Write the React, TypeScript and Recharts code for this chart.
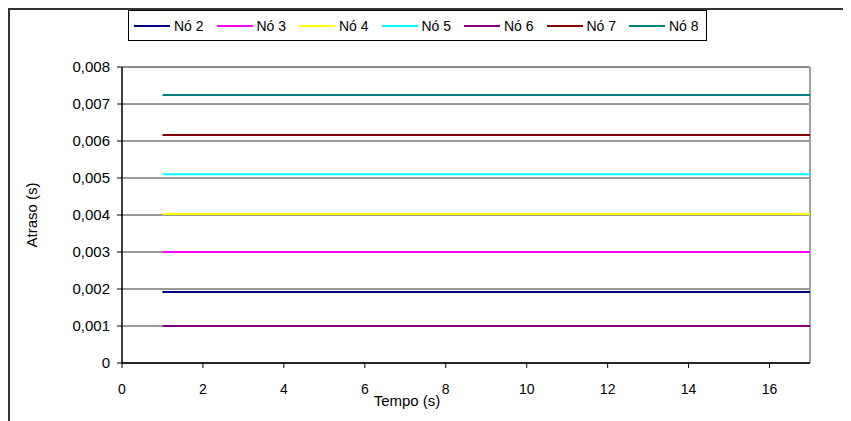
import {
  LineChart,
  Line,
  XAxis,
  YAxis,
  CartesianGrid,
  ReferenceLine,
  Label,
} from "recharts";

const times = [1, 2, 3, 4, 5, 6, 7, 8, 9, 10, 11, 12, 13, 14, 15, 16, 17];

const no2 = [0.00192, 0.00192, 0.00192, 0.00192, 0.00192, 0.00192, 0.00192, 0.00192, 0.00192, 0.00192, 0.00192, 0.00192, 0.00192, 0.00192, 0.00192, 0.00192, 0.00192];
const no3 = [0.003, 0.003, 0.003, 0.003, 0.003, 0.003, 0.003, 0.003, 0.003, 0.003, 0.003, 0.003, 0.003, 0.003, 0.003, 0.003, 0.003];
const no4 = [0.00403, 0.00403, 0.00403, 0.00403, 0.00403, 0.00403, 0.00403, 0.00403, 0.00403, 0.00403, 0.00403, 0.00403, 0.00403, 0.00403, 0.00403, 0.00403, 0.00403];
const no5 = [0.0051, 0.0051, 0.0051, 0.0051, 0.0051, 0.0051, 0.0051, 0.0051, 0.0051, 0.0051, 0.0051, 0.0051, 0.0051, 0.0051, 0.0051, 0.0051, 0.0051];
const no6 = [0.001, 0.001, 0.001, 0.001, 0.001, 0.001, 0.001, 0.001, 0.001, 0.001, 0.001, 0.001, 0.001, 0.001, 0.001, 0.001, 0.001];
const no7 = [0.00616, 0.00616, 0.00616, 0.00616, 0.00616, 0.00616, 0.00616, 0.00616, 0.00616, 0.00616, 0.00616, 0.00616, 0.00616, 0.00616, 0.00616, 0.00616, 0.00616];
const no8 = [0.00724, 0.00724, 0.00724, 0.00724, 0.00724, 0.00724, 0.00724, 0.00724, 0.00724, 0.00724, 0.00724, 0.00724, 0.00724, 0.00724, 0.00724, 0.00724, 0.00724];

const seriesNames = ["Nó 2", "Nó 3", "Nó 4", "Nó 5", "Nó 6", "Nó 7", "Nó 8"];
const seriesValues = [no2, no3, no4, no5, no6, no7, no8];
const seriesColors = ["#000080", "#ff00ff", "#ffff00", "#00ffff", "#800080", "#800000", "#008080"];

const xTicks = [0, 2, 4, 6, 8, 10, 12, 14, 16];
const yTicks = [0, 0.001, 0.002, 0.003, 0.004, 0.005, 0.006, 0.007, 0.008];

const data = times.map((t, i) => {
  const row: Record<string, number> = { t };
  seriesNames.forEach((name, s) => {
    row[name] = seriesValues[s][i];
  });
  return row;
});

const font = "'Liberation Sans', Arial, sans-serif";

const formatY = (v: number) => (v === 0 ? "0" : v.toFixed(3).replace(".", ","));

const ChartLegend = () => (
  <div
    style={{
      position: "absolute",
      left: 118,
      top: 0,
      width: 579,
      height: 31,
      border: "1px solid #000",
      background: "#fff",
      display: "flex",
      alignItems: "center",
      paddingLeft: 5,
      boxSizing: "border-box",
      fontFamily: font,
      fontSize: 14,
      color: "#000",
    }}
  >
    {seriesNames.map((name, i) => (
      <div key={name} style={{ display: "flex", alignItems: "center", width: 82.5, flexShrink: 0 }}>
        <div
          style={{
            width: 36,
            minWidth: 36,
            flexShrink: 0,
            height: 2,
            background: seriesColors[i],
            marginRight: 4,
          }}
        />
        <span style={{ whiteSpace: "nowrap" }}>{name}</span>
      </div>
    ))}
  </div>
);

export default function App() {
  return (
    <div
      style={{
        position: "relative",
        width: 841,
        height: 411,
        borderTop: "2px solid #333",
        borderLeft: "2px solid #333",
        background: "#fff",
      }}
    >
      <LineChart
        width={841}
        height={411}
        data={data}
        margin={{ top: 57, right: 41, left: 42, bottom: 18 }}
      >
        <CartesianGrid vertical={false} stroke="#333" strokeWidth={1} />
        <XAxis
          dataKey="t"
          type="number"
          domain={[0, 17]}
          ticks={xTicks}
          height={40}
          tickSize={5}
          tickMargin={16}
          axisLine={{ stroke: "#000", strokeWidth: 1.5 }}
          tickLine={{ stroke: "#000" }}
          tick={{ fill: "#000", fontSize: 14, fontFamily: font }}
        >
          <Label
            content={({ viewBox }: any) => (
              <text
                x={viewBox.x + viewBox.width / 2 - 59}
                y={viewBox.y + 43}
                textAnchor="middle"
                fontSize={15}
                fontFamily={font}
                fill="#000"
              >
                Tempo (s)
              </text>
            )}
          />
        </XAxis>
        <YAxis
          type="number"
          domain={[0, 0.008]}
          ticks={yTicks}
          width={70}
          tickSize={5}
          tickMargin={7}
          tickFormatter={formatY}
          axisLine={{ stroke: "#000", strokeWidth: 1.5 }}
          tickLine={{ stroke: "#000" }}
          tick={{ fill: "#000", fontSize: 15, fontFamily: font }}
        >
          <Label
            content={({ viewBox }: any) => {
              const cx = viewBox.x - 21;
              const cy = viewBox.y + viewBox.height / 2;
              return (
                <text
                  x={cx}
                  y={cy}
                  textAnchor="middle"
                  dominantBaseline="central"
                  transform={`rotate(-90 ${cx} ${cy})`}
                  fontSize={15}
                  fontFamily={font}
                  fill="#000"
                >
                  Atraso (s)
                </text>
              );
            }}
          />
        </YAxis>
        <ReferenceLine y={0.008} stroke="#888" strokeWidth={1.5} />
        <ReferenceLine x={17} stroke="#a0a0a0" strokeWidth={2} />
        {seriesNames.map((name, i) => (
          <Line
            key={name}
            type="linear"
            dataKey={name}
            stroke={seriesColors[i]}
            strokeWidth={2}
            dot={false}
            activeDot={false}
            isAnimationActive={false}
          />
        ))}
      </LineChart>
      <ChartLegend />
    </div>
  );
}
